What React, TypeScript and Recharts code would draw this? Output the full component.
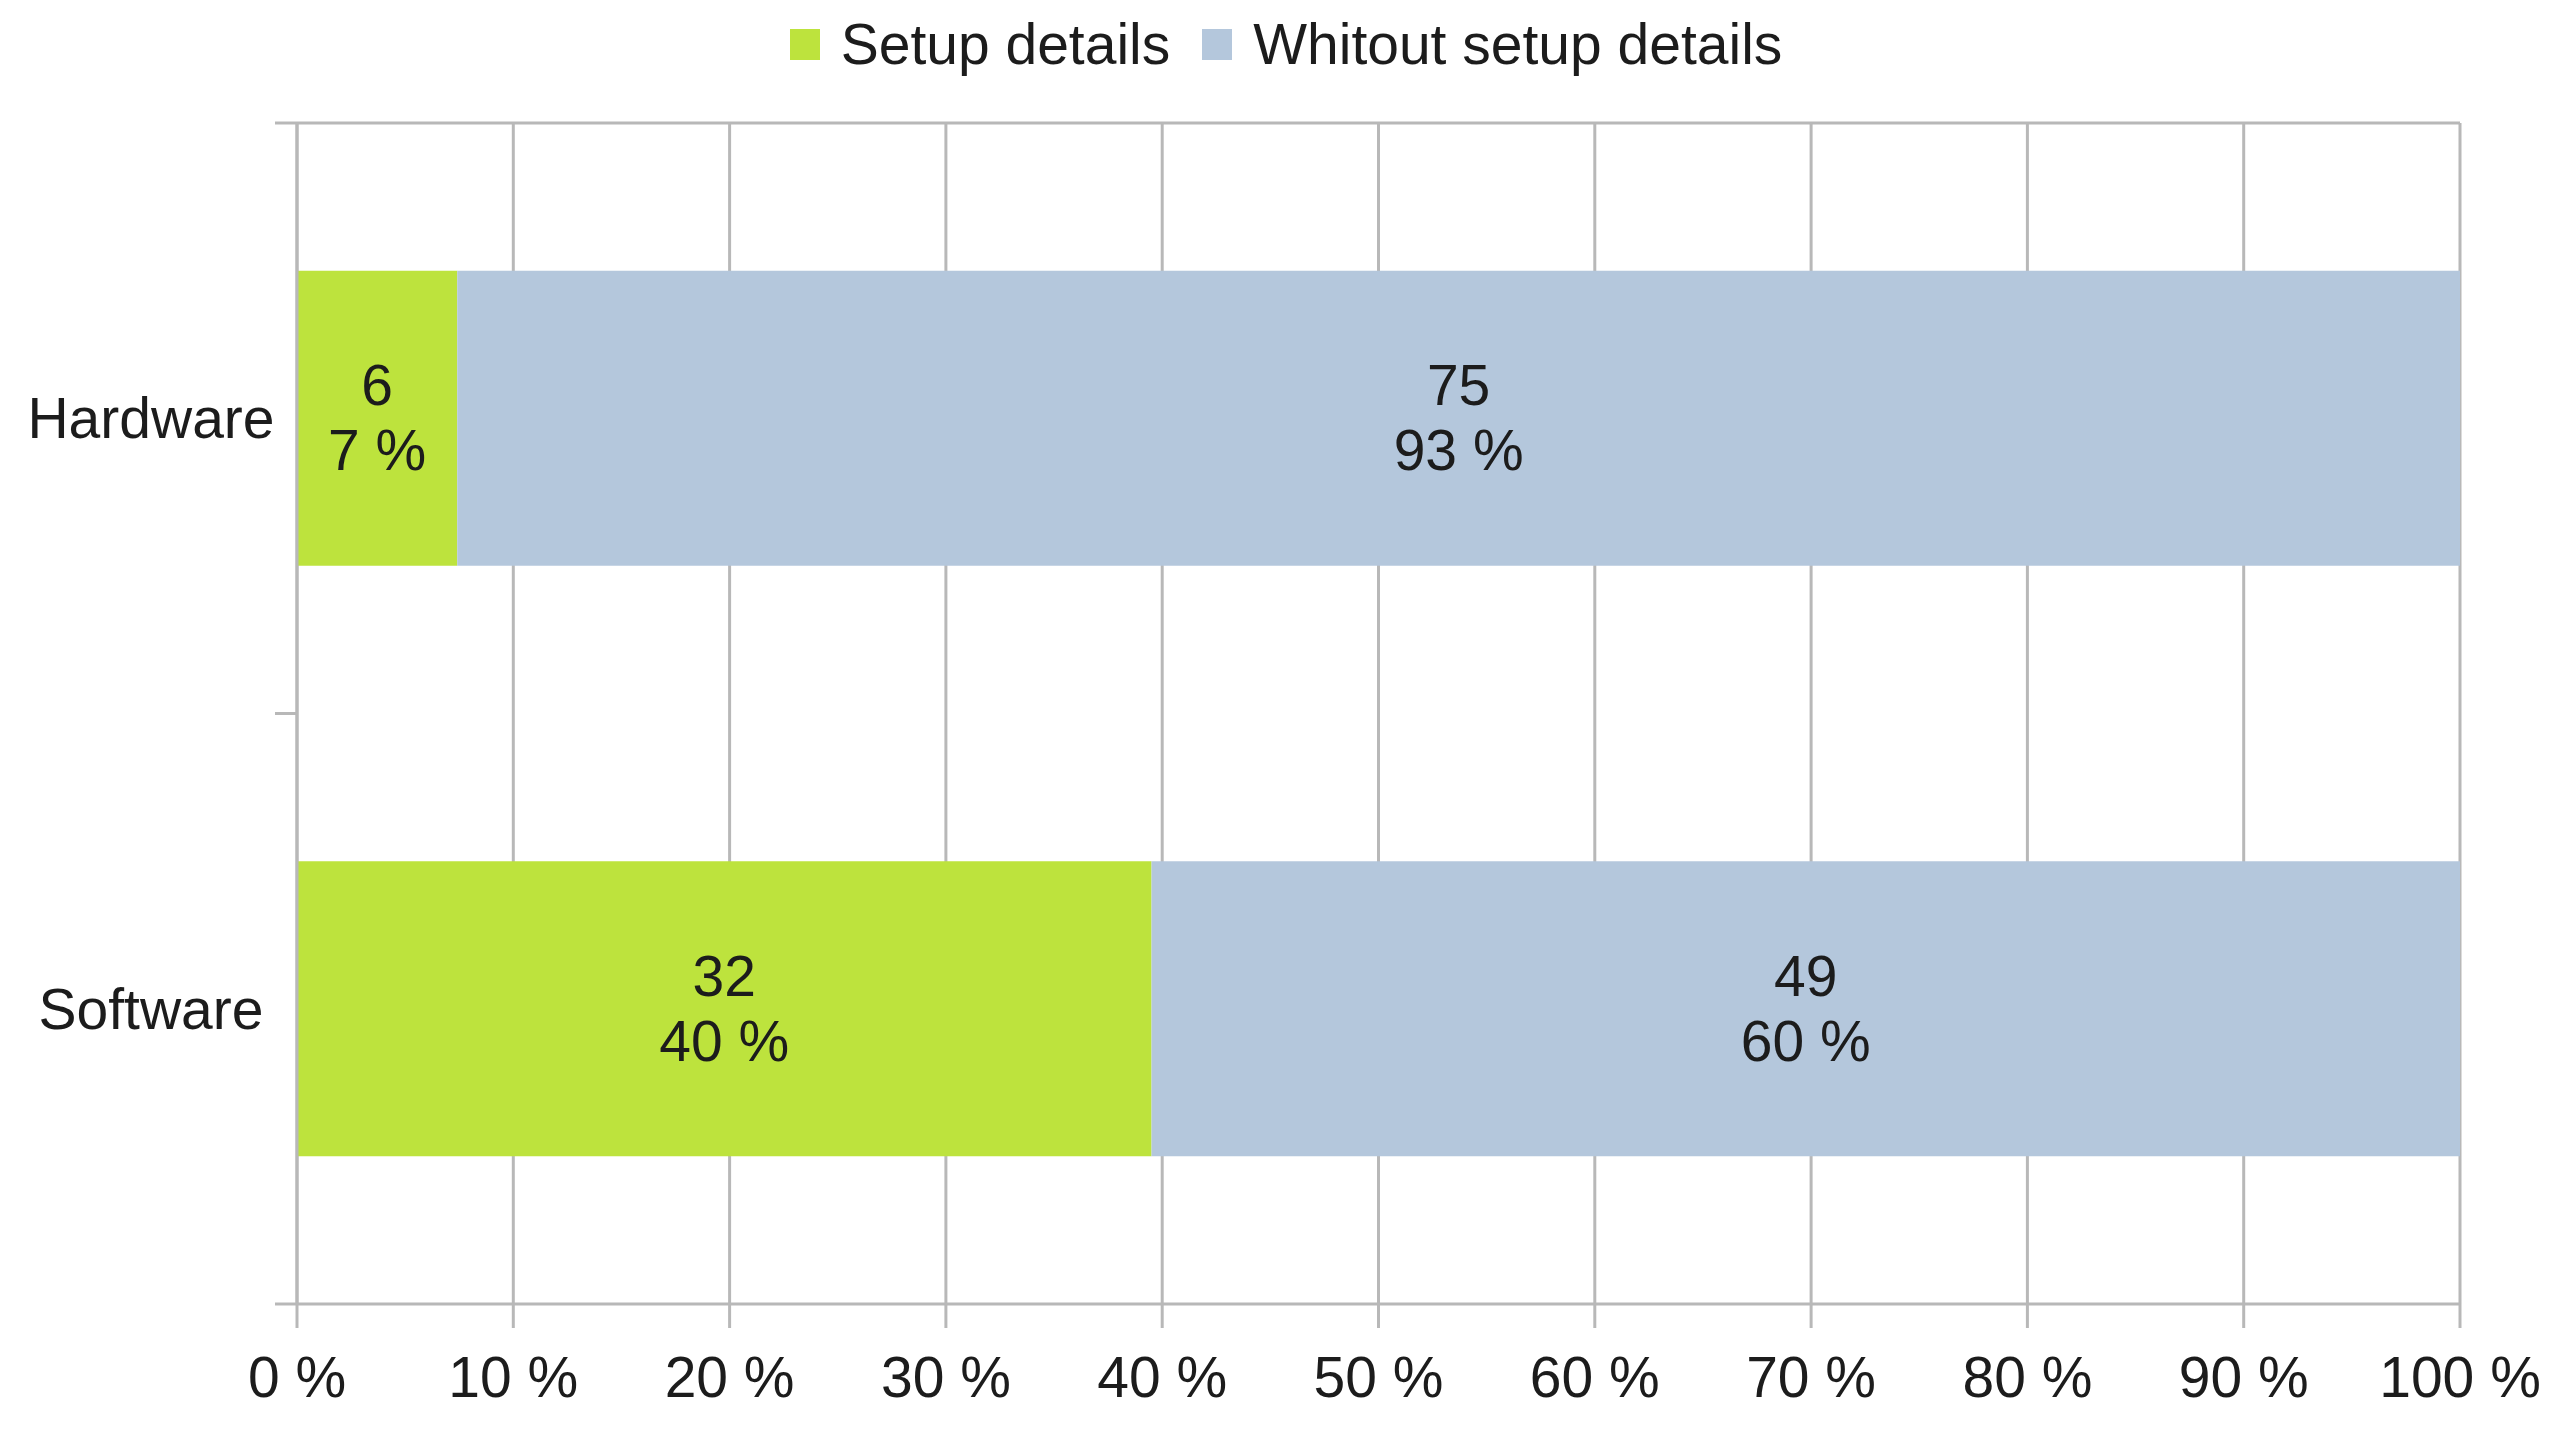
import React from 'react';
import { BarChart, Bar, XAxis, YAxis, CartesianGrid, Legend, LabelList } from 'recharts';

const categories = ['Hardware', 'Software'];
const setupDetails = [6, 32];
const withoutSetupDetails = [75, 49];
const seriesNames = ['Setup details', 'Whitout setup details'];
const percentTicks = [0, 0.1, 0.2, 0.3, 0.4, 0.5, 0.6, 0.7, 0.8, 0.9, 1];

const GREEN = '#bde33d';
const BLUE = '#b4c7dc';
const GRID = '#b8b8b8';
const TEXT = '#1c1c1c';
const FONT = '"Liberation Sans", Arial, sans-serif';
const FS = 57;

const W = 2556;
const H = 1417;
const Y_TICK = 22;
// category labels are centred in their column, like the source
const LABEL_HALF = 123;

const pct = (v: number, total: number) => `${Math.round((v / total) * 100)} %`;

const data = categories.map((name, i) => {
  const total = setupDetails[i] + withoutSetupDetails[i];
  return {
    name,
    setup: setupDetails[i],
    without: withoutSetupDetails[i],
    setupLabel: `${setupDetails[i]}\n${pct(setupDetails[i], total)}`,
    withoutLabel: `${withoutSetupDetails[i]}\n${pct(withoutSetupDetails[i], total)}`,
  };
});

function BarText(props: any) {
  const { x, y, width, height, value } = props;
  const [a, b] = String(value).split('\n');
  const cx = Number(x) + Number(width) / 2;
  const cy = Number(y) + Number(height) / 2;
  return (
    <text x={cx} y={cy} textAnchor="middle" fill={TEXT} fontSize={FS} fontFamily={FONT}>
      <tspan x={cx} y={cy - 13}>{a}</tspan>
      <tspan x={cx} y={cy + 52}>{b}</tspan>
    </text>
  );
}

function CategoryTick(props: any) {
  const { x, y, payload, index, visibleTicksCount } = props;
  const half = payload?.offset ?? 0;
  const x1 = x + 1;
  const x2 = x1 + Y_TICK;
  return (
    <g>
      <text x={x - LABEL_HALF} y={y} dy="0.355em" textAnchor="middle" fill={TEXT} fontSize={FS} fontFamily={FONT}>
        {payload.value}
      </text>
      <line x1={x1} x2={x2} y1={y - half} y2={y - half} stroke={GRID} strokeWidth={3} />
      {index === visibleTicksCount - 1 && (
        <line x1={x1} x2={x2} y1={y + half} y2={y + half} stroke={GRID} strokeWidth={3} />
      )}
    </g>
  );
}

function LegendContent() {
  const colors = [GREEN, BLUE];
  return (
    <div
      style={{
        display: 'flex',
        justifyContent: 'center',
        alignItems: 'center',
        height: 72,
        fontFamily: FONT,
        fontSize: FS,
        color: TEXT,
      }}
    >
      {seriesNames.map((n, i) => (
        <div key={n} style={{ display: 'flex', alignItems: 'center', marginRight: i === 0 ? 32 : 0 }}>
          <span style={{ width: 30, height: 31, background: colors[i], marginRight: 21, display: 'inline-block' }} />
          <span>{n}</span>
        </div>
      ))}
    </div>
  );
}

export default function App() {
  return (
    <div style={{ width: W, height: H, background: '#fff' }}>
      <BarChart
        width={W}
        height={H}
        data={data}
        layout="vertical"
        stackOffset="expand"
        barCategoryGap="25%"
        margin={{ top: 115, right: 104, bottom: 21, left: 0 }}
      >
        <CartesianGrid
          stroke={GRID}
          strokeWidth={3}
          horizontalCoordinatesGenerator={(p: any) => [p.offset.top]}
        />
        <XAxis
          type="number"
          domain={[0, 1]}
          ticks={percentTicks}
          tickFormatter={(v: number) => `${Math.round(v * 100)} %`}
          height={100}
          tickSize={24}
          tickMargin={29}
          axisLine={{ stroke: GRID, strokeWidth: 3 }}
          tickLine={{ stroke: GRID, strokeWidth: 3 }}
          tick={{ fill: TEXT, fontSize: FS, fontFamily: FONT }}
          interval={0}
        />
        <YAxis
          type="category"
          dataKey="name"
          width={289}
          tickLine={false}
          tickSize={0}
          tickMargin={23}
          axisLine={{ stroke: GRID, strokeWidth: 3 }}
          tick={<CategoryTick />}
          interval={0}
        />
        <Legend
          verticalAlign="middle"
          align="center"
          content={<LegendContent />}
          wrapperStyle={{ top: 0, left: 0, width: W, height: 72 }}
        />
        <Bar dataKey="setup" name={seriesNames[0]} stackId="a" fill={GREEN} isAnimationActive={false}>
          <LabelList dataKey="setupLabel" content={<BarText />} />
        </Bar>
        <Bar dataKey="without" name={seriesNames[1]} stackId="a" fill={BLUE} isAnimationActive={false}>
          <LabelList dataKey="withoutLabel" content={<BarText />} />
        </Bar>
      </BarChart>
    </div>
  );
}
